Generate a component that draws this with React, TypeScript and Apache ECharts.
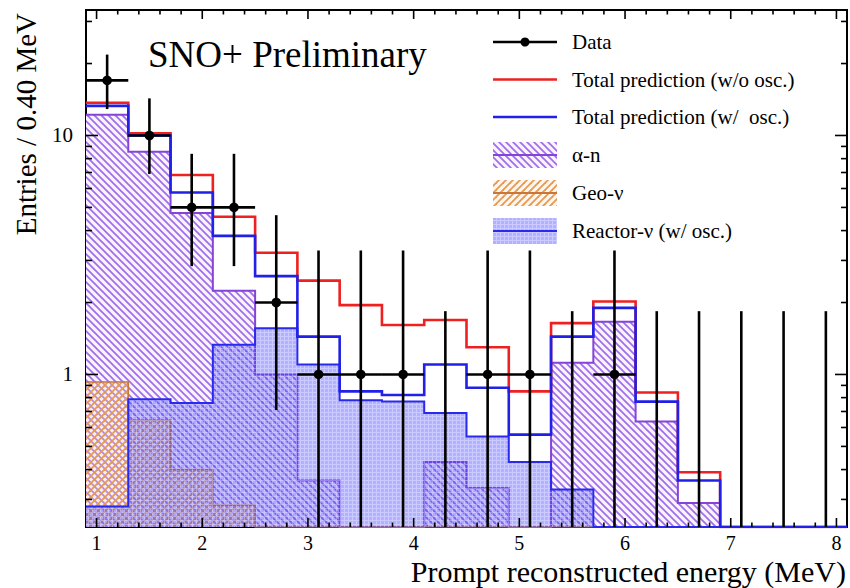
import React, { useEffect, useRef } from 'react';
import * as echarts from 'echarts';

// ---- data ----
const BIN_EDGES = [0.9, 1.3, 1.7, 2.1, 2.5, 2.9, 3.3, 3.7, 4.1, 4.5, 4.9, 5.3, 5.7, 6.1, 6.5, 6.9, 7.3, 7.7, 8.1];
const BIN_CENTERS = [1.1, 1.5, 1.9, 2.3, 2.7, 3.1, 3.5, 3.9, 4.3, 4.7, 5.1, 5.5, 5.9, 6.3, 6.7, 7.1, 7.5, 7.9];

const DATA_COUNTS = [17, 10, 5, 5, 2, 1, 1, 1, 0, 1, 1, 0, 1, 0, 0, 0, 0, 0];
const DATA_ERR_LOW = [12.9, 6.9, 2.84, 2.84, 0.71, 0.17, 0.17, 0.17, 0, 0.17, 0.17, 0, 0.17, 0, 0, 0, 0, 0];
const DATA_ERR_HIGH = [21.8, 14.3, 8.38, 8.38, 4.64, 3.3, 3.3, 3.3, 1.84, 3.3, 3.3, 1.84, 3.3, 1.84, 1.84, 1.84, 1.84, 1.84];

const ALPHA_N = [12.2, 8.55, 4.74, 2.24, 1.0, 0.36, 0.07, 0.05, 0.43, 0.335, 0.13, 1.12, 1.66, 0.635, 0.29, 0, 0, 0];
const GEO_NU = [0.93, 0.645, 0.4, 0.284, 0.15, 0.1, 0.06, 0.04, 0.02, 0.01, 0, 0, 0, 0, 0, 0, 0, 0];
const REACTOR_NU = [0.28, 0.787, 0.76, 1.33, 1.56, 1.1, 0.78, 0.77, 0.69, 0.55, 0.43, 0.33, 0.22, 0.13, 0.07, 0.03, 0.01, 0];
const TOTAL_NO_OSC = [13.7, 10.2, 6.83, 4.57, 3.23, 2.47, 1.95, 1.61, 1.69, 1.3, 0.85, 1.64, 2.02, 0.84, 0.39, 0, 0, 0];
const TOTAL_OSC = [13.3, 10.0, 5.77, 3.8, 2.58, 1.44, 0.85, 0.82, 1.1, 0.88, 0.56, 1.44, 1.9, 0.77, 0.36, 0, 0, 0];

const X_MAJOR_TICKS = [1, 2, 3, 4, 5, 6, 7, 8];
const X_MINOR_TICKS = [1.2, 1.4, 1.6, 1.8, 2.2, 2.4, 2.6, 2.8, 3.2, 3.4, 3.6, 3.8, 4.2, 4.4, 4.6, 4.8,
  5.2, 5.4, 5.6, 5.8, 6.2, 6.4, 6.6, 6.8, 7.2, 7.4, 7.6, 7.8];
const Y_MAJOR_TICKS = [1, 10];
const Y_MINOR_TICKS = [0.3, 0.4, 0.5, 0.6, 0.7, 0.8, 0.9, 2, 3, 4, 5, 6, 7, 8, 9, 20, 30];

const X_MIN = 0.9;
const X_MAX = 8.1;
const Y_MIN = 0.23;
const Y_MAX = 33.5;

const SERIF = '"Liberation Serif", "DejaVu Serif", serif';

function hatchCanvas(size: number, color: string, width: number, dir: 'back' | 'fwd', bg: string | null) {
  const c = document.createElement('canvas');
  c.width = size;
  c.height = size;
  const ctx = c.getContext('2d')!;
  if (bg) {
    ctx.fillStyle = bg;
    ctx.fillRect(0, 0, size, size);
  }
  ctx.strokeStyle = color;
  ctx.lineWidth = width;
  for (let k = -1; k <= 1; k++) {
    ctx.beginPath();
    if (dir === 'back') {
      ctx.moveTo(-1 + k * size, -1);
      ctx.lineTo(size + 1 + k * size, size + 1);
    } else {
      ctx.moveTo(-1 + k * size, size + 1);
      ctx.lineTo(size + 1 + k * size, -1);
    }
    ctx.stroke();
  }
  return c;
}

function gridCanvas() {
  const c = document.createElement('canvas');
  c.width = 4;
  c.height = 4;
  const ctx = c.getContext('2d')!;
  ctx.fillStyle = 'rgba(70,70,255,0.42)';
  ctx.fillRect(0, 0, 4, 4);
  ctx.fillStyle = 'rgba(255,255,255,0.33)';
  ctx.fillRect(0, 0, 4, 1);
  ctx.fillRect(0, 1, 1, 3);
  return c;
}

function pattern(canvas: HTMLCanvasElement) {
  return { image: canvas, repeat: 'repeat', imageWidth: canvas.width, imageHeight: canvas.height } as any;
}

function stepPoints(vals: number[]) {
  return BIN_EDGES.map((e, i) => [e, Math.max(Y_MIN, vals[Math.min(i, vals.length - 1)])]);
}

export default function App() {
  const ref = useRef<HTMLDivElement>(null);

  useEffect(() => {
    if (!ref.current) return;
    const chart = echarts.init(ref.current, null, { renderer: 'svg' });

    const alphaPat = pattern(hatchCanvas(7, '#9d6ee8', 1.7, 'back', 'rgba(250,243,255,1)'));
    const geoPat = pattern(hatchCanvas(7, '#e69a50', 1.8, 'fwd', 'rgba(255,220,190,0.25)'));
    const reactorPat = pattern(gridCanvas());

    const ALPHA_LINE = '#8544d8';
    const GEO_LINE = '#c8763a';
    const REACTOR_LINE = '#2a2aee';
    const RED = '#ee2020';
    const BLUE = '#2020e6';

    const histSeries = (name: string, vals: number[], lineColor: string, fill: any, width: number, z: number) => ({
      type: 'line',
      name,
      step: 'end',
      z,
      data: stepPoints(vals),
      showSymbol: false,
      symbol: 'none',
      silent: true,
      lineStyle: { color: lineColor, width, join: 'miter' },
      areaStyle: fill ? { color: fill, origin: 'start', opacity: 1 } : undefined,
      emphasis: { disabled: true },
    });

    const xTickData = [
      ...X_MAJOR_TICKS.map((v) => [v, 2]),
      ...X_MINOR_TICKS.map((v) => [v, 1]),
    ];
    const yTickData = [
      ...Y_MAJOR_TICKS.map((v) => [X_MIN, v, 2]),
      ...Y_MINOR_TICKS.map((v) => [X_MIN, v, 1]),
    ];

    const legendRows = [42, 79.5, 117, 155, 193, 231];
    const LX1 = 493;
    const LX2 = 557;
    const LTX = 572;
    const legendFont = `21px ${SERIF}`;

    const legendGraphics: any[] = [
      { type: 'line', shape: { x1: LX1, y1: legendRows[0], x2: LX2, y2: legendRows[0] }, style: { stroke: '#000', lineWidth: 2.5 } },
      { type: 'circle', shape: { cx: (LX1 + LX2) / 2, cy: legendRows[0], r: 4.5 }, style: { fill: '#000' } },
      { type: 'line', shape: { x1: LX1, y1: legendRows[1], x2: LX2, y2: legendRows[1] }, style: { stroke: RED, lineWidth: 2.5 } },
      { type: 'line', shape: { x1: LX1, y1: legendRows[2], x2: LX2, y2: legendRows[2] }, style: { stroke: BLUE, lineWidth: 2.5 } },
      { type: 'rect', shape: { x: LX1, y: legendRows[3] - 13, width: LX2 - LX1, height: 26 }, style: { fill: alphaPat } },
      { type: 'line', shape: { x1: LX1, y1: legendRows[3], x2: LX2, y2: legendRows[3] }, style: { stroke: ALPHA_LINE, lineWidth: 2 } },
      { type: 'rect', shape: { x: LX1, y: legendRows[4] - 13, width: LX2 - LX1, height: 26 }, style: { fill: geoPat } },
      { type: 'line', shape: { x1: LX1, y1: legendRows[4], x2: LX2, y2: legendRows[4] }, style: { stroke: GEO_LINE, lineWidth: 2 } },
      { type: 'rect', shape: { x: LX1, y: legendRows[5] - 13, width: LX2 - LX1, height: 26 }, style: { fill: reactorPat } },
      { type: 'line', shape: { x1: LX1, y1: legendRows[5], x2: LX2, y2: legendRows[5] }, style: { stroke: REACTOR_LINE, lineWidth: 2 } },
    ];
    const legendTexts = ['Data', 'Total prediction (w/o osc.)', 'Total prediction (w/  osc.)', 'α-n', 'Geo-ν', 'Reactor-ν (w/ osc.)'];
    legendTexts.forEach((t, i) => {
      legendGraphics.push({
        type: 'text',
        x: LTX,
        y: legendRows[i],
        style: { text: t, font: legendFont, fill: '#000', align: 'left', verticalAlign: 'middle' },
      });
    });

    const option: any = {
      animation: false,
      backgroundColor: '#ffffff',
      grid: {
        left: 86,
        right: 3,
        top: 10,
        bottom: 61,
        show: true,
        borderColor: '#000',
        borderWidth: 2,
        backgroundColor: 'transparent',
      },
      xAxis: {
        type: 'value',
        min: X_MIN,
        max: X_MAX,
        splitNumber: 7,
        axisLine: { show: false },
        axisTick: { show: false },
        splitLine: { show: false },
        axisLabel: {
          color: '#000',
          fontFamily: SERIF,
          fontSize: 20,
          margin: 6,
          hideOverlap: false,
          formatter: (v: number) => (Math.abs(v - Math.round(v)) < 1e-6 ? String(Math.round(v)) : ''),
        },
      },
      yAxis: {
        type: 'log',
        logBase: 10,
        min: Y_MIN,
        max: Y_MAX,
        axisLine: { show: false },
        axisTick: { show: false },
        splitLine: { show: false },
        minorTick: { show: false },
        axisLabel: {
          color: '#000',
          fontFamily: SERIF,
          fontSize: 21,
          margin: 13,
          hideOverlap: false,
          formatter: (v: number) => {
            if (Math.abs(v - 1) < 1e-6) return '1';
            if (Math.abs(v - 10) < 1e-5) return '10';
            return '';
          },
        },
      },
      graphic: [
        {
          type: 'text',
          x: 148,
          y: 54,
          style: { text: 'SNO+ Preliminary', font: `37px ${SERIF}`, fill: '#000', align: 'left', verticalAlign: 'middle' },
        },
        {
          type: 'text',
          x: 846,
          y: 571.5,
          style: { text: 'Prompt reconstructed energy (MeV)', font: `30px ${SERIF}`, fill: '#000', align: 'right', verticalAlign: 'middle' },
        },
        {
          type: 'text',
          x: 26,
          y: 13,
          rotation: Math.PI / 2,
          style: { text: 'Entries / 0.40 MeV', font: `29px ${SERIF}`, fill: '#000', align: 'right', verticalAlign: 'middle' },
        },
        ...legendGraphics,
      ],
      series: [
        histSeries('α-n', ALPHA_N, ALPHA_LINE, alphaPat, 2, 2),
        histSeries('Geo-ν', GEO_NU, GEO_LINE, geoPat, 1.6, 3),
        histSeries('Reactor-ν (w/ osc.)', REACTOR_NU, REACTOR_LINE, reactorPat, 2, 4),
        histSeries('Total prediction (w/o osc.)', TOTAL_NO_OSC, RED, null, 2.6, 5),
        histSeries('Total prediction (w/  osc.)', TOTAL_OSC, BLUE, null, 2.6, 6),
        {
          type: 'custom',
          name: 'Data',
          silent: true,
          z: 10,
          data: BIN_CENTERS.map((x, i) => [x, DATA_COUNTS[i], DATA_ERR_LOW[i], DATA_ERR_HIGH[i]]),
          encode: { x: 0, y: 3 },
          renderItem: (params: any, api: any) => {
            const i = params.dataIndex;
            const x = api.value(0);
            const n = api.value(1);
            const lo = api.value(2);
            const hi = api.value(3);
            const top = api.coord([x, Math.min(hi, Y_MAX)]);
            const bot = api.coord([x, Math.max(lo, Y_MIN)]);
            const children: any[] = [
              { type: 'line', shape: { x1: top[0], y1: top[1], x2: bot[0], y2: bot[1] }, style: { stroke: '#000', lineWidth: 2.6 } },
            ];
            if (n > 0) {
              const l = api.coord([BIN_EDGES[i], n]);
              const r = api.coord([BIN_EDGES[i + 1], n]);
              const c = api.coord([x, n]);
              children.push({ type: 'line', shape: { x1: l[0], y1: l[1], x2: r[0], y2: r[1] }, style: { stroke: '#000', lineWidth: 2.6 } });
              children.push({ type: 'circle', shape: { cx: c[0], cy: c[1], r: 4.8 }, style: { fill: '#000' } });
            }
            return { type: 'group', children };
          },
        },
        {
          type: 'custom',
          name: 'xticks',
          silent: true,
          z: 11,
          data: xTickData,
          encode: { x: 0, y: 1 },
          renderItem: (params: any, api: any) => {
            const v = api.value(0);
            const len = api.value(1) === 2 ? 9 : 4.5;
            const cs = params.coordSys;
            const p = api.coord([v, Y_MIN]);
            const yb = cs.y + cs.height;
            const yt = cs.y;
            return {
              type: 'group',
              children: [
                { type: 'line', shape: { x1: p[0], y1: yb, x2: p[0], y2: yb - len }, style: { stroke: '#000', lineWidth: 1.6 } },
                { type: 'line', shape: { x1: p[0], y1: yt, x2: p[0], y2: yt + len }, style: { stroke: '#000', lineWidth: 1.6 } },
              ],
            };
          },
        },
        {
          type: 'custom',
          name: 'yticks',
          silent: true,
          z: 11,
          data: yTickData,
          encode: { x: 0, y: 1 },
          renderItem: (params: any, api: any) => {
            const v = api.value(1);
            const len = api.value(2) === 2 ? 12 : 6;
            const cs = params.coordSys;
            const p = api.coord([X_MIN, v]);
            const xl = cs.x;
            const xr = cs.x + cs.width;
            return {
              type: 'group',
              children: [
                { type: 'line', shape: { x1: xl, y1: p[1], x2: xl + len, y2: p[1] }, style: { stroke: '#000', lineWidth: 1.6 } },
                { type: 'line', shape: { x1: xr, y1: p[1], x2: xr - len, y2: p[1] }, style: { stroke: '#000', lineWidth: 1.6 } },
              ],
            };
          },
        },
      ],
    };

    chart.setOption(option);
    return () => {
      chart.dispose();
    };
  }, []);

  return (
    <div
      ref={ref}
      style={{ position: 'absolute', left: 0, top: 0, width: 850, height: 588, background: '#fff' }}
    />
  );
}
